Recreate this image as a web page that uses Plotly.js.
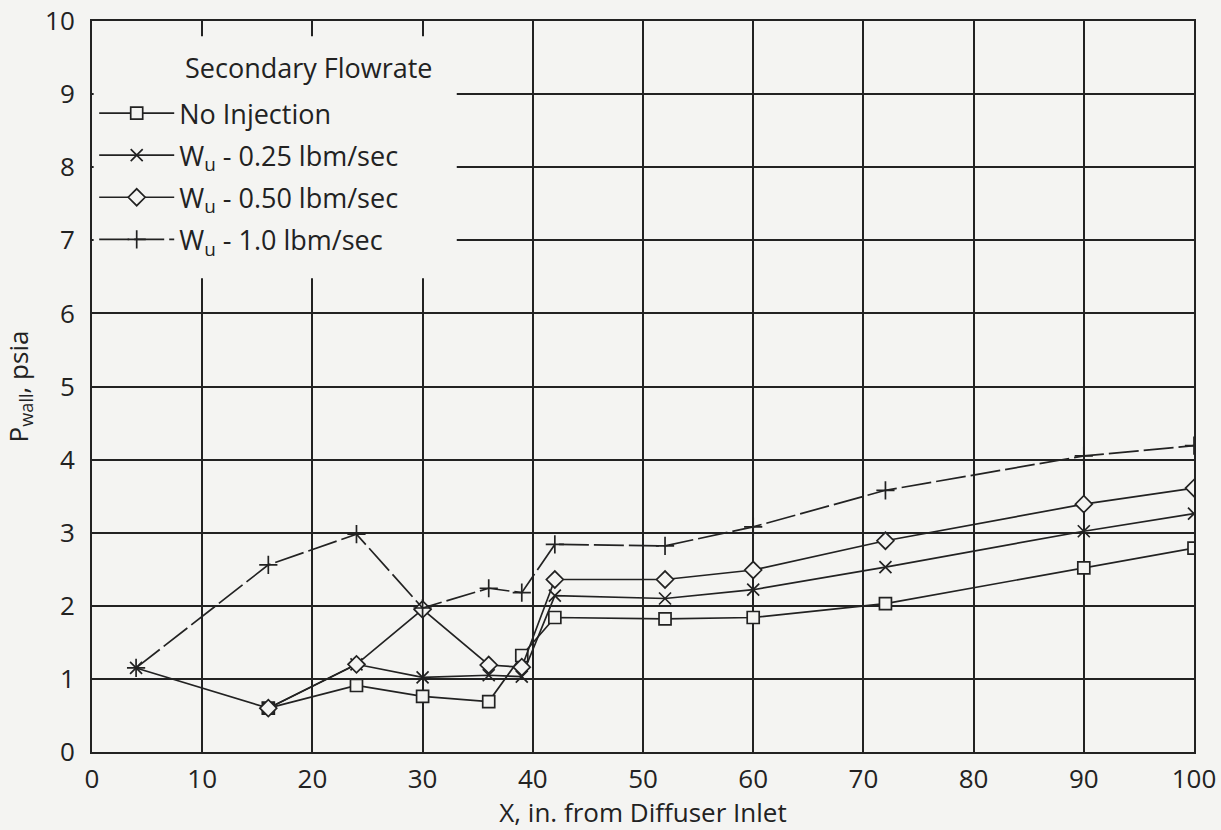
<!DOCTYPE html>
<html>
<head>
<meta charset="utf-8">
<script src="https://cdn.plot.ly/plotly-3.0.1.min.js"></script>
<style>html,body{margin:0;padding:0;background:#f4f4f2;}</style>
</head>
<body>
<div id="chart" style="width:1221px;height:830px;"></div>
<script>
// Data
const xNoInj = [16, 24, 30, 36, 39, 42, 52, 60, 72, 90, 100];
const yNoInj = [0.6, 0.91, 0.76, 0.69, 1.32, 1.84, 1.82, 1.84, 2.03, 2.52, 2.79];

const x025 = [4, 16, 24, 30, 36, 39, 42, 52, 60, 72, 90, 100];
const y025 = [1.15, 0.6, 1.2, 1.02, 1.05, 1.03, 2.14, 2.10, 2.22, 2.53, 3.02, 3.26];

const x050 = [16, 24, 30, 36, 39, 42, 52, 60, 72, 90, 100];
const y050 = [0.6, 1.2, 1.95, 1.19, 1.16, 2.36, 2.36, 2.49, 2.89, 3.39, 3.61];

const x100 = [4, 16, 24, 30, 36, 39, 42, 52, 60, 72, 90, 100];
const y100 = [1.15, 2.56, 2.98, 1.97, 2.24, 2.18, 2.84, 2.82, 3.08, 3.58, 4.05, 4.19];

const seriesNames = [
  'No Injection',
  'W<sub>u</sub> - 0.25 lbm/sec',
  'W<sub>u</sub> - 0.50 lbm/sec',
  'W<sub>u</sub> - 1.0 lbm/sec'
];
const xTicks = [0, 10, 20, 30, 40, 50, 60, 70, 80, 90, 100];
const yTicks = [0, 1, 2, 3, 4, 5, 6, 7, 8, 9, 10];

const ink = '#222222';
const bg = '#f4f4f2';
const fontFam = 'Open Sans, Noto Sans, sans-serif';
const fs = 26;

function tr(x, y, name, symbol, size, dash, grp, fill) {
  return {
    x: x, y: y, name: name, type: 'scatter', mode: 'lines+markers',
    legendgroup: grp,
    line: {color: ink, width: 1.7, dash: dash},
    marker: {symbol: symbol, size: size, color: fill, line: {color: ink, width: 1.7}}
  };
}

const data = [
  tr(xNoInj, yNoInj, seriesNames[0], 'square', 12, 'solid', 'a', bg),
  tr(x025, y025, seriesNames[1], 'x-thin-open', 12, 'solid', 'b', ink),
  tr(x050, y050, seriesNames[2], 'diamond', 13, 'solid', 'c', bg),
  tr(x100, y100, seriesNames[3], 'cross-thin-open', 13, '30px,5px', 'd', ink)
];

const layout = {
  width: 1221, height: 830,
  paper_bgcolor: bg, plot_bgcolor: bg,
  margin: {l: 92, r: 27, t: 21, b: 78},
  font: {family: fontFam, size: fs, color: ink},
  showlegend: true,
  legend: {
    x: 0.002, y: 0.907, xanchor: 'left', yanchor: 'top',
    bgcolor: 'rgba(0,0,0,0)', borderwidth: 0,
    traceorder: 'grouped', tracegroupgap: 4,
    itemwidth: 75,
    font: {family: fontFam, size: 27, color: ink}
  },
  xaxis: {
    range: [0, 100], tickvals: xTicks, ticktext: xTicks.map(String),
    showgrid: true, gridcolor: ink, gridwidth: 2,
    showline: true, linecolor: ink, linewidth: 2, mirror: true,
    zeroline: false, ticks: '', ticklabelstandoff: 3,
    tickfont: {family: fontFam, size: fs, color: ink},
    title: {text: 'X, in. from Diffuser Inlet', font: {family: fontFam, size: fs, color: ink}, standoff: 4}
  },
  yaxis: {
    range: [0, 10], tickvals: yTicks, ticktext: yTicks.map(String),
    showgrid: true, gridcolor: ink, gridwidth: 2,
    showline: true, linecolor: ink, linewidth: 2, mirror: true,
    zeroline: false, ticks: '', ticklabelstandoff: 10,
    tickfont: {family: fontFam, size: fs, color: ink},
    title: {text: 'P<sub>wall</sub>, psia', font: {family: fontFam, size: fs, color: ink}, standoff: 14}
  },
  shapes: [{
    type: 'rect', layer: 'above', xref: 'x', yref: 'y',
    x0: 0.15, x1: 33.1, y0: 6.48, y1: 9.79,
    fillcolor: bg, line: {width: 0}
  }],
  annotations: [{
    text: 'Secondary Flowrate', xref: 'paper', yref: 'paper',
    x: 0.083, y: 0.937, xanchor: 'left', yanchor: 'middle',
    showarrow: false, font: {family: fontFam, size: 27, color: ink}
  }]
};

Plotly.newPlot('chart', data, layout, {displayModeBar: false, staticPlot: true});
</script>
</body>
</html>
